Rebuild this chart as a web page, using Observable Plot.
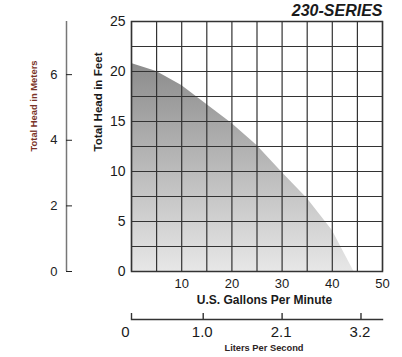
<!DOCTYPE html>
<html><head><meta charset="utf-8">
<script src="https://cdn.jsdelivr.net/npm/d3@7"></script>
<script src="https://cdn.jsdelivr.net/npm/@observablehq/plot@0.6"></script>
<style>
body{margin:0;background:#fff;}
#chart{position:relative;width:402px;height:357px;font-family:"Liberation Sans",Arial,sans-serif;}
#chart svg{display:block;overflow:visible;}
</style></head><body><div id="chart"></div>
<script>
// Pump curve: flow (US GPM) vs total head (feet)
const gpm    = [0,    5,    10,   15,   20,   25,   30,  35,  40,  44.3];
const headFt = [20.8, 20.0, 18.6, 16.7, 14.8, 12.6, 9.9, 7.3, 4.1, 0];
const gridGpm = [0, 5, 10, 15, 20, 25, 30, 35, 40, 45, 50];
const gridFt  = [0, 2.5, 5, 7.5, 10, 12.5, 15, 17.5, 20, 22.5, 25];
const gpmTicks  = [10, 20, 30, 40, 50];
const feetTicks = [0, 5, 10, 15, 20, 25];
const meterTicks = [0, 2, 4, 6];
const lpsTicks  = [0, 1.0, 2.1, 3.2];
const lpsLabels = ["0", "1.0", "2.1", "3.2"];
const FT_PER_M = 3.2808;
const title = "230-SERIES";

const curve = gpm.map((g, i) => ({gpm: g, ft: headFt[i]}));
const font = "'Liberation Sans', Arial, sans-serif";

const defs = () => {
  const d = d3.create("svg:defs");
  const g = d.append("linearGradient").attr("id", "headGrad")
    .attr("x1", 0).attr("y1", 0).attr("x2", 0).attr("y2", 1);
  g.append("stop").attr("offset", "0%").attr("stop-color", "#8c8c8c");
  g.append("stop").attr("offset", "100%").attr("stop-color", "#e7e7e7");
  return d.node();
};

const main = Plot.plot({
  width: 402, height: 305,
  marginLeft: 131, marginRight: 20, marginTop: 21, marginBottom: 34,
  x: {domain: [0, 50]},
  y: {domain: [0, 25]},
  style: {fontFamily: font, background: "transparent", color: "#1a1a1a"},
  marks: [
    defs,
    Plot.areaY(curve, {x: "gpm", y: "ft", fill: "url(#headGrad)"}),
    Plot.ruleX(gridGpm, {stroke: "#333", strokeWidth: 1.2}),
    Plot.ruleY(gridFt, {stroke: "#333", strokeWidth: 1.2}),
    Plot.frame({stroke: "#333", strokeWidth: 1.5}),
    Plot.axisY(feetTicks, {tickSize: 0, tickPadding: 6, fontSize: 14, label: null}),
    Plot.axisX(gpmTicks, {tickSize: 0, tickPadding: 7, fontSize: 13, label: null}),
    // metric head axis
    Plot.ruleX([0], {y1: 0, y2: 25, dx: -65, stroke: "#777", strokeWidth: 1.5}),
    Plot.axisY(meterTicks.map(m => m * FT_PER_M), {
      anchor: "left", tickSize: 6, dx: -59, tickPadding: 9, fontSize: 13, label: null,
      tickFormat: d => String(Math.round(d / FT_PER_M)), color: "#222"
    }),
    Plot.text(["Total Head in Meters"], {frameAnchor: "left", lineAnchor: "middle", dx: -98, dy: 5, rotate: -90,
      fill: "#7a3328", fontSize: 9.4, fontWeight: "bold"}),
    Plot.text(["Total Head in Feet"], {frameAnchor: "left", lineAnchor: "middle", dx: -33, dy: 5, rotate: -90,
      fill: "#1a1a1a", fontSize: 11.6, fontWeight: "bold"}),
    Plot.text(["U.S. Gallons Per Minute"], {frameAnchor: "bottom", lineAnchor: "middle", dx: 7.5, dy: 28.5,
      fill: "#1a1a1a", fontSize: 12, fontWeight: "bold"}),
    Plot.text([title], {frameAnchor: "top-right", lineAnchor: "middle", textAnchor: "end", dy: -11,
      fill: "#1a1a1a", fontSize: 16, fontWeight: "bold", fontStyle: "italic"})
  ]
});

const lps = Plot.plot({
  width: 402, height: 52,
  marginLeft: 131, marginRight: 20, marginTop: 8, marginBottom: 38,
  x: {domain: [0, 3.5]},
  style: {fontFamily: font, background: "transparent", color: "#1a1a1a"},
  marks: [
    Plot.frame({anchor: "bottom", stroke: "#333", strokeWidth: 1.4}),
    Plot.tickX(lpsTicks, {x: d => d, stroke: "#333", strokeWidth: 1.4}),
    Plot.axisX(lpsTicks.slice(0, 1), {anchor: "bottom", tickSize: 0, tickPadding: 7, fontSize: 15, label: null,
      dx: -6, tickFormat: (d) => lpsLabels[lpsTicks.indexOf(d)]}),
    Plot.axisX(lpsTicks.slice(1), {anchor: "bottom", tickSize: 0, tickPadding: 7, fontSize: 15, label: null,
      dx: -1, tickFormat: (d) => lpsLabels[lpsTicks.indexOf(d)]}),
    Plot.text(["Liters Per Second"], {frameAnchor: "bottom", lineAnchor: "middle", dx: 7, dy: 28.5,
      fill: "#2e2424", fontSize: 9.3, fontWeight: "bold"})
  ]
});

const chart = document.getElementById("chart");
chart.appendChild(main);
chart.appendChild(lps);
</script>
</body></html>
